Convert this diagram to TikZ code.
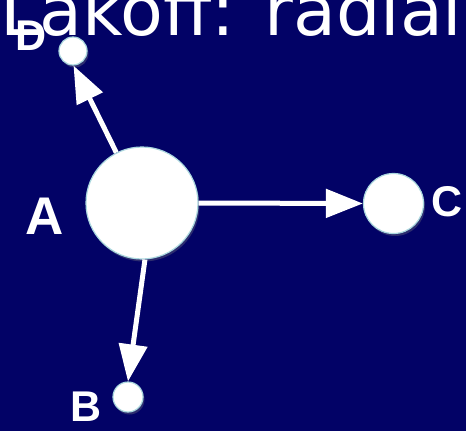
\documentclass[tikz,border=0pt]{standalone}
\usepackage{fontspec}
\setmainfont{Liberation Sans}
\newfontfamily\titlefont{DejaVu Sans}
\usetikzlibrary{arrows.meta,shadows}
\definecolor{bg}{RGB}{2,2,102}
\definecolor{rim}{RGB}{170,215,222}
\begin{document}
\begin{tikzpicture}[x=1pt,y=-1pt,
  dot/.style={circle,fill=white,draw=rim,line width=1.2pt,inner sep=0pt,minimum size=#1,
    drop shadow={opacity=0.35,shadow xshift=1.5pt,shadow yshift=-2.5pt}},
  lbl/.style={text=white,font=\bfseries\fontsize{43}{43}\selectfont,inner sep=0pt},
  link/.style={draw=white,line width=5pt,-{Triangle[length=37pt,width=28pt]}}]
\fill[bg] (0,0) rectangle (466,431);
\useasboundingbox (0,0) rectangle (466,431);
\begin{scope}
\clip (0,0) rectangle (466,431);
\node[anchor=base west,inner sep=0pt,text=white,font=\titlefont\fontsize{70}{70}\selectfont] (title) at (0,35) {Lakoff: radial};
\end{scope}
\node[dot=112pt] (A) at (142,203) {};
\node[dot=60pt] (C) at (393.5,203.5) {};
\node[dot=30pt] (B) at (128,397) {};
\node[dot=28pt] (D) at (73,51) {};
\draw[link] (A.117) -- (D.-88);
\draw[link] (A.0) -- (C.180);
\draw[link] (A.-87) -- (B.90);
\node[lbl,font=\bfseries\fontsize{53}{53}\selectfont] (la) at (45,216) {A};
\node[lbl] (lb) at (86,407) {B};
\node[lbl] (lc) at (447,202) {C};
\node[lbl] (ld) at (31,36) {D};
\end{tikzpicture}
\end{document}
